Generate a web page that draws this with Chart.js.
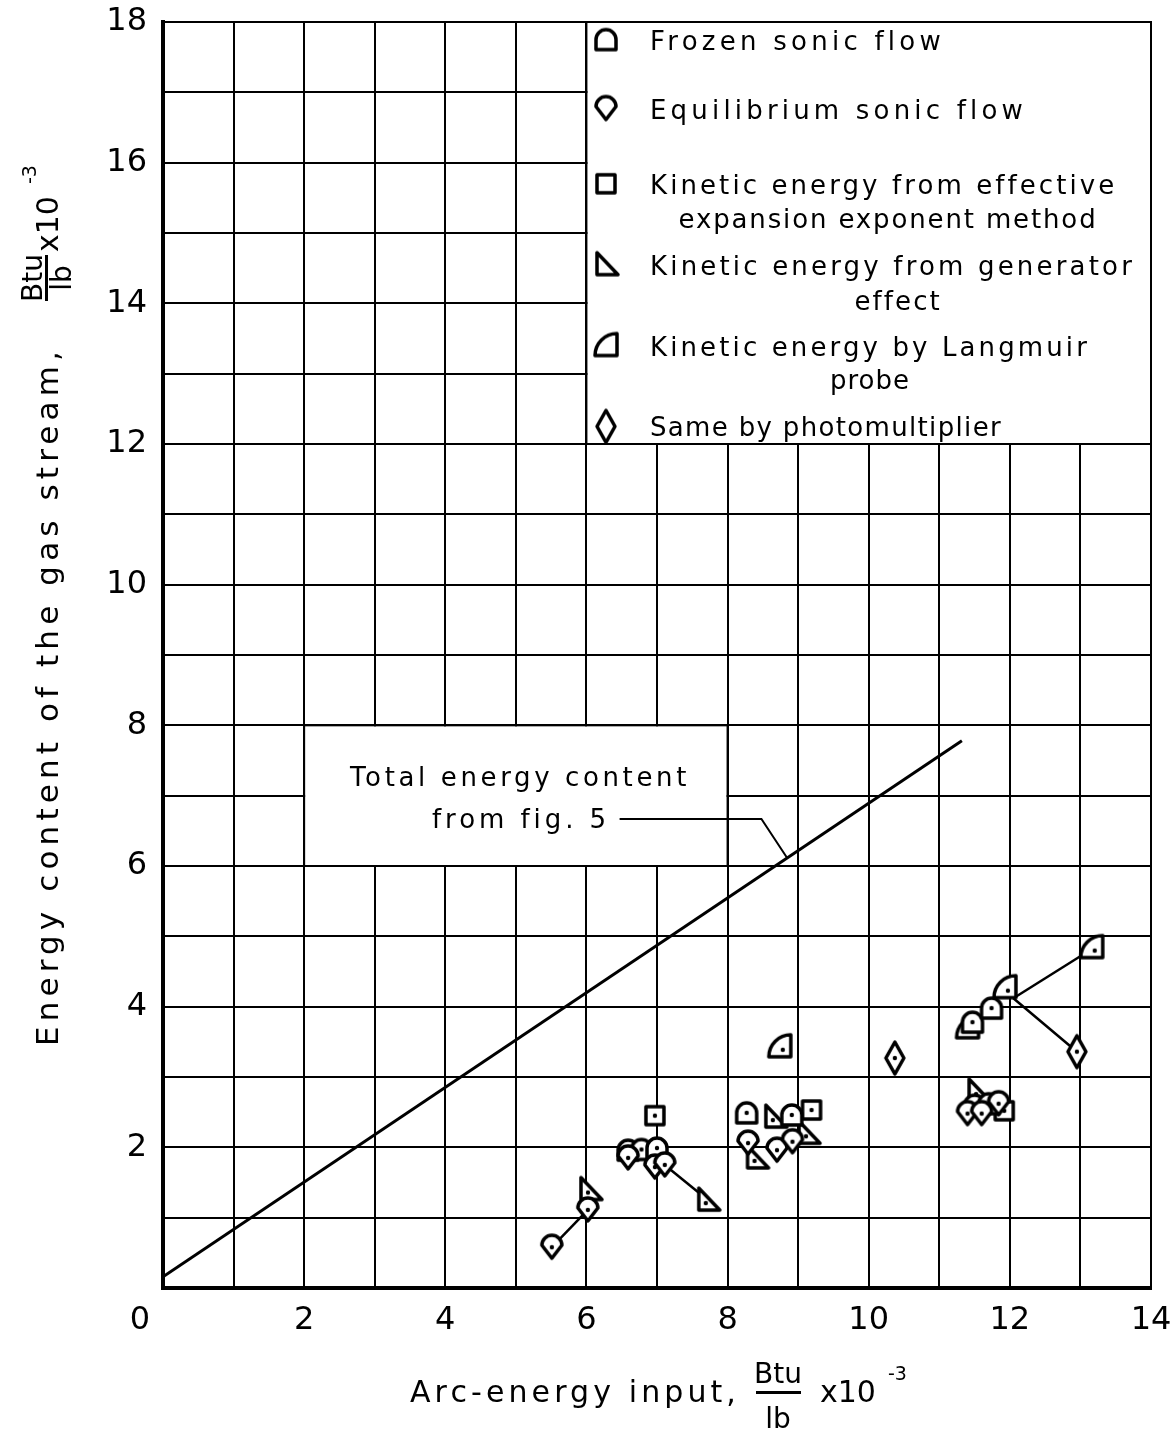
<!DOCTYPE html>
<html>
<head>
<meta charset="utf-8">
<title>Energy content of the gas stream</title>
<script src="https://cdn.jsdelivr.net/npm/chart.js@4.4.1/dist/chart.umd.min.js"></script>
<style>
  html, body { margin: 0; padding: 0; background: #fff; }
  #wrap { width: 1173px; height: 1435px; position: relative; }
</style>
</head>
<body>
<div id="wrap"><canvas id="chart"></canvas></div>
<script>
// Tick labels shown on the axes
const xTicks = [0, 2, 4, 6, 8, 10, 12, 14];
const yTicks = [2, 4, 6, 8, 10, 12, 14, 16, 18];

// Total energy content from fig. 5
const totalX = [0, 11.32];
const totalY = [0.16, 7.78];

// Frozen sonic flow
const frozenX = [6.59, 6.78, 7.0, 8.27, 8.91, 11.47, 11.74, 11.5, 11.7];
const frozenY = [1.96, 1.97, 1.99, 2.49, 2.46, 3.78, 3.98, 2.6, 2.62];

// Equilibrium sonic flow
const equilX = [5.51, 6.02, 6.59, 6.97, 7.11, 8.29, 8.7, 8.92, 11.4, 11.6, 11.84];
const equilY = [0.58, 1.11, 1.85, 1.72, 1.75, 2.06, 1.96, 2.08, 2.48, 2.48, 2.62];

// Kinetic energy from effective expansion exponent method
const squareX = [6.97, 9.19, 11.92];
const squareY = [2.45, 2.53, 2.52];

// Kinetic energy from generator effect
const genX = [6.05, 7.72, 8.41, 8.67, 9.14, 11.55];
const genY = [1.40, 1.25, 1.85, 2.43, 2.20, 2.80];

// Kinetic energy by Langmuir probe
const langX = [8.74, 11.4, 11.93, 13.16];
const langY = [3.43, 3.70, 4.27, 4.84];

// Same by photomultiplier
const photoX = [10.37, 12.95];
const photoY = [3.27, 3.36];

// Lines joining related points
const linkX = [[5.51, 6.02], [7.11, 7.72], [12.05, 13.1], [12.05, 12.95]];
const linkY = [[0.58, 1.11], [1.75, 1.25], [4.12, 4.78], [4.12, 3.36]];

const legendLabels = [
  ["Frozen sonic flow"],
  ["Equilibrium sonic flow"],
  ["Kinetic energy from effective", "expansion exponent method"],
  ["Kinetic energy from generator", "effect"],
  ["Kinetic energy by Langmuir", "probe"],
  ["Same by photomultiplier"]
];

const FONT = "'DejaVu Sans', sans-serif";

function zip(xs, ys) {
  return xs.map((v, i) => ({ x: v, y: ys[i] }));
}

// Hand-drawn marker shapes, returned as small canvases for pointStyle
function makeMarker(kind, dot) {
  const s = 52;
  const c = document.createElement("canvas");
  c.width = s; c.height = s;
  const g = c.getContext("2d");
  const m = s / 2;
  g.lineWidth = 3.5;
  g.strokeStyle = "#000";
  g.fillStyle = "#fff";
  g.lineJoin = "round";
  g.beginPath();
  switch (kind) {
    case "frozen":
      g.moveTo(m - 10, m + 10);
      g.lineTo(m - 10, m);
      g.arc(m, m, 10, Math.PI, 0);
      g.lineTo(m + 10, m + 10);
      g.closePath();
      break;
    case "equil":
      g.moveTo(m - 10, m - 2);
      g.arc(m, m - 2, 10, Math.PI, 0);
      g.lineTo(m, m + 11);
      g.closePath();
      break;
    case "square":
      g.rect(m - 9, m - 9, 18, 18);
      break;
    case "gen":
      g.moveTo(m - 9, m - 12);
      g.lineTo(m - 9, m + 10);
      g.lineTo(m + 12, m + 10);
      g.closePath();
      break;
    case "lang":
      g.moveTo(m + 11, m + 10);
      g.lineTo(m - 11, m + 10);
      g.arc(m + 11, m + 10, 22, Math.PI, 1.5 * Math.PI);
      g.closePath();
      break;
    case "photo":
      g.moveTo(m, m - 16);
      g.lineTo(m + 9, m);
      g.lineTo(m, m + 16);
      g.lineTo(m - 9, m);
      g.closePath();
      break;
  }
  g.fill();
  g.stroke();
  if (dot) {
    g.fillStyle = "#000";
    g.beginPath();
    const dy = kind === "lang" ? 3 : kind === "gen" ? 3 : 0;
    const dx = kind === "lang" ? 3 : kind === "gen" ? -2 : 0;
    g.arc(m + dx, m + dy, 2.2, 0, Math.PI * 2);
    g.fill();
  }
  return c;
}

const markerKinds = ["frozen", "equil", "square", "gen", "lang", "photo"];
const markers = {};
const legendMarkers = {};
markerKinds.forEach(k => {
  markers[k] = makeMarker(k, true);
  legendMarkers[k] = makeMarker(k, false);
});

function pointSet(xs, ys, kind) {
  return {
    data: zip(xs, ys),
    pointStyle: markers[kind],
    showLine: false,
    order: 1
  };
}

function lineSet(xs, ys, width) {
  return {
    data: zip(xs, ys),
    showLine: true,
    borderColor: "#000",
    borderWidth: width,
    pointRadius: 0,
    fill: false,
    order: 5
  };
}

const datasets = [lineSet(totalX, totalY, 3)];
linkX.forEach((xs, i) => datasets.push(lineSet(xs, linkY[i], 2.5)));
datasets.push(pointSet(equilX, equilY, "equil"));
datasets.push(pointSet(frozenX, frozenY, "frozen"));
datasets.push(pointSet(squareX, squareY, "square"));
datasets.push(pointSet(genX, genY, "gen"));
datasets.push(pointSet(langX, langY, "lang"));
datasets.push(pointSet(photoX, photoY, "photo"));

function textRun(ctx, str, x, y, size, spacing) {
  ctx.font = size + "px " + FONT;
  ctx.letterSpacing = spacing + "px";
  ctx.fillText(str, x, y);
  return ctx.measureText(str).width;
}

// draw text stretched by letter spacing to the lettering width of the original
function fitText(ctx, str, x, y, size, width) {
  ctx.font = size + "px " + FONT;
  ctx.letterSpacing = "0px";
  const natural = ctx.measureText(str).width;
  const sp = Math.max(0, (width - natural) / str.length);
  return textRun(ctx, str, x, y, size, sp);
}

function whiteBox(ctx, xs, ys, x0, x1, y0, y1) {
  const l = xs.getPixelForValue(x0), r = xs.getPixelForValue(x1);
  const t = ys.getPixelForValue(y1), b = ys.getPixelForValue(y0);
  ctx.save();
  ctx.fillStyle = "#fff";
  ctx.fillRect(l + 1, t + 1, r - l - 2, b - t - 2);
  ctx.strokeStyle = "#000";
  ctx.lineWidth = 2;
  ctx.strokeRect(l, t, r - l, b - t);
  ctx.restore();
}

const overlay = {
  id: "overlay",
  beforeDatasetsDraw(chart) {
    const { ctx, scales: { x, y } } = chart;
    whiteBox(ctx, x, y, 6, 14, 12, 18);
    whiteBox(ctx, x, y, 2, 8, 6, 8);
  },
  afterDatasetsDraw(chart) {
    const { ctx, scales: { x, y } } = chart;
    ctx.save();
    ctx.fillStyle = "#000";

    // tick labels
    ctx.textBaseline = "middle";
    ctx.textAlign = "right";
    yTicks.forEach(v => textRun(ctx, String(v), x.left - 16, y.getPixelForValue(v), 32, 0));
    ctx.textAlign = "center";
    xTicks.forEach(v => {
      const px = x.getPixelForValue(v) - (v === 0 ? 23 : 0);
      textRun(ctx, String(v), px, y.bottom + 33, 32, 0);
    });
    ctx.textBaseline = "alphabetic";

    // legend
    const rows = [[17.75], [16.77], [15.70, 15.22], [14.55, 14.05], [13.40, 12.92], [12.25]];
    const widths = [[295], [377], [467, 419], [485, 87], [440, 80], [352]];
    const centers = [null, 888, 898, 870];
    legendLabels.forEach((lines, i) => {
      const py = y.getPixelForValue(rows[i][0]);
      const sym = legendMarkers[markerKinds[i]];
      ctx.drawImage(sym, 606 - sym.width / 2, py - sym.height / 2);
      ctx.textAlign = "left";
      fitText(ctx, lines[0], 650, py + 10, 26, widths[i][1 - 1]);
      if (lines[1]) {
        const py2 = y.getPixelForValue(rows[i][1]);
        const w2 = widths[i][1];
        fitText(ctx, lines[1], centers[i - 1] - w2 / 2, py2 + 10, 26, w2);
      }
    });

    // annotation
    ctx.textAlign = "left";
    fitText(ctx, "Total energy content", 350, 786, 26, 340);
    fitText(ctx, "from fig. 5", 432, 828, 26, 178);
    ctx.strokeStyle = "#000";
    ctx.lineWidth = 2;
    ctx.beginPath();
    ctx.moveTo(x.getPixelForValue(6.47), y.getPixelForValue(6.67));
    ctx.lineTo(x.getPixelForValue(8.48), y.getPixelForValue(6.67));
    ctx.lineTo(x.getPixelForValue(8.84), y.getPixelForValue(6.12));
    ctx.stroke();

    // x axis title
    ctx.textAlign = "left";
    fitText(ctx, "Arc-energy input,", 410, 1402, 30, 330);
    ctx.textAlign = "center";
    textRun(ctx, "Btu", 778, 1383, 28, 0);
    textRun(ctx, "lb", 778, 1428, 28, 0);
    ctx.fillRect(756, 1391, 45, 3);
    ctx.textAlign = "left";
    textRun(ctx, "x10", 820, 1402, 30, 0);
    textRun(ctx, "-3", 888, 1380, 19, 0);

    // y axis title (rotated)
    ctx.translate(0, 1046);
    ctx.rotate(-Math.PI / 2);
    fitText(ctx, "Energy content of the gas stream,", 0, 58, 31, 700);
    const fc = 768;
    ctx.textAlign = "center";
    textRun(ctx, "Btu", fc, 42, 28, 0);
    textRun(ctx, "lb", fc, 71, 28, 0);
    ctx.fillRect(fc - 23, 45, 46, 3);
    ctx.textAlign = "left";
    textRun(ctx, "x10", fc + 26, 58, 30, 0);
    textRun(ctx, "-3", fc + 94, 36, 19, 0);
    ctx.restore();
  }
};

new Chart(document.getElementById("chart"), {
  type: "scatter",
  data: { datasets: datasets },
  options: {
    responsive: true,
    maintainAspectRatio: false,
    animation: false,
    layout: { padding: { top: 22, right: 22, left: 0, bottom: 0 } },
    plugins: { legend: { display: false }, tooltip: { enabled: false } },
    scales: {
      x: {
        type: "linear",
        min: 0,
        max: 14,
        afterFit: s => { s.height = 147; },
        afterBuildTicks: s => { s.ticks = Array.from({ length: 15 }, (_, i) => ({ value: i })); },
        ticks: { display: false },
        grid: { color: "#000", lineWidth: 2, drawTicks: false },
        border: { color: "#000", width: 4 }
      },
      y: {
        type: "linear",
        min: 0,
        max: 18,
        afterFit: s => { s.width = 163; },
        afterBuildTicks: s => { s.ticks = Array.from({ length: 19 }, (_, i) => ({ value: i })); },
        ticks: { display: false },
        grid: { color: "#000", lineWidth: 2, drawTicks: false },
        border: { color: "#000", width: 4 }
      }
    }
  },
  plugins: [overlay]
});
</script>
</body>
</html>
